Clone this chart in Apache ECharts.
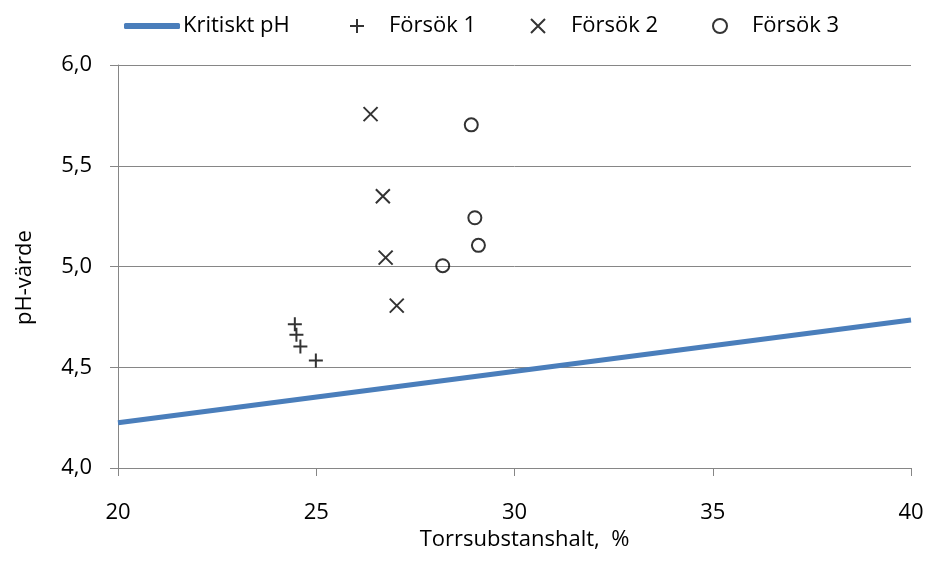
<!DOCTYPE html>
<html>
<head>
<meta charset="utf-8">
<script src="https://cdn.jsdelivr.net/npm/echarts@6/dist/echarts.min.js"></script>
<style>
  html, body { margin: 0; padding: 0; background: #fff; }
  #main { width: 928px; height: 565px; }
</style>
</head>
<body>
<div id="main"></div>
<script>
// kritiskt pH-linje
var kritisktPH = [[20, 4.225], [40, 4.735]];

// försöksdata [torrsubstanshalt, pH]
var forsok1 = [[24.46, 4.713], [24.50, 4.661], [24.60, 4.603], [24.99, 4.533]];
var forsok2 = [[26.37, 5.756], [26.68, 5.349], [26.75, 5.044], [27.03, 4.806]];
var forsok3 = [[28.91, 5.703], [29.00, 5.242], [29.09, 5.105], [28.19, 5.004]];

var plusPath = 'path://M0,7H14M7,0V14';
var crossPath = 'path://M0,0L14,14M14,0L0,14';

var font = 'Open Sans';
var grey = '#868686';

var markerStyle = { color: 'rgba(0,0,0,0)', borderColor: '#000', borderWidth: 2 };

var myChart = echarts.init(document.getElementById('main'));

myChart.setOption({
  animation: false,
  textStyle: { fontFamily: font },
  grid: { left: 118, right: 17, top: 65, bottom: 97 },
  legend: [
    {
      data: ['Kritiskt pH'], left: 119, top: 10,
      icon: 'roundRect', itemWidth: 56, itemHeight: 6,
      textStyle: { fontFamily: font, fontSize: 22, color: '#000', padding: [0, 0, 0, -2] }
    },
    {
      data: ['Försök 1'], left: 344, top: 10,
      itemWidth: 14, itemHeight: 14,
      textStyle: { fontFamily: font, fontSize: 22, color: '#000', padding: [0, 0, 0, 20] }
    },
    {
      data: ['Försök 2'], left: 525, top: 10,
      itemWidth: 14, itemHeight: 14,
      textStyle: { fontFamily: font, fontSize: 22, color: '#000', padding: [0, 0, 0, 21] }
    },
    {
      data: ['Försök 3'], left: 707, top: 10,
      itemWidth: 14, itemHeight: 14,
      textStyle: { fontFamily: font, fontSize: 22, color: '#000', padding: [0, 0, 0, 20] }
    }
  ],
  xAxis: {
    type: 'value', min: 20, max: 40, interval: 5,
    name: 'Torrsubstanshalt,  %', nameLocation: 'middle', nameGap: 58,
    nameTextStyle: { fontFamily: font, fontSize: 22, color: '#000', padding: [0, 0, 0, 20] },
    axisLine: { show: true, lineStyle: { color: grey, width: 1 } },
    axisTick: { show: true, length: 8, lineStyle: { color: grey } },
    axisLabel: { margin: 34, fontFamily: font, fontSize: 22, color: '#000' },
    splitLine: { show: false }
  },
  yAxis: {
    type: 'value', min: 4, max: 6, interval: 0.5,
    name: 'pH-värde', nameLocation: 'middle', nameGap: 82,
    nameTextStyle: { fontFamily: font, fontSize: 22, color: '#000', padding: [0, 22, 0, 0] },
    axisLine: { show: true, lineStyle: { color: grey, width: 1 } },
    axisTick: { show: true, length: 8, lineStyle: { color: grey } },
    axisLabel: {
      margin: 26, fontFamily: font, fontSize: 22, color: '#000',
      formatter: function (v) { return v.toFixed(1).replace('.', ','); }
    },
    splitLine: { show: true, lineStyle: { color: grey, width: 1 } }
  },
  series: [
    {
      name: 'Kritiskt pH', type: 'line', data: kritisktPH,
      symbol: 'none', lineStyle: { color: '#4a7ebb', width: 5 },
      itemStyle: { color: '#4a7ebb' }, z: 1
    },
    {
      name: 'Försök 1', type: 'scatter', data: forsok1,
      symbol: plusPath, symbolSize: 14, itemStyle: markerStyle, z: 3
    },
    {
      name: 'Försök 2', type: 'scatter', data: forsok2,
      symbol: crossPath, symbolSize: 14, itemStyle: markerStyle, z: 3
    },
    {
      name: 'Försök 3', type: 'scatter', data: forsok3,
      symbol: 'circle', symbolSize: 13, itemStyle: markerStyle, z: 3
    }
  ]
});
</script>
</body>
</html>
